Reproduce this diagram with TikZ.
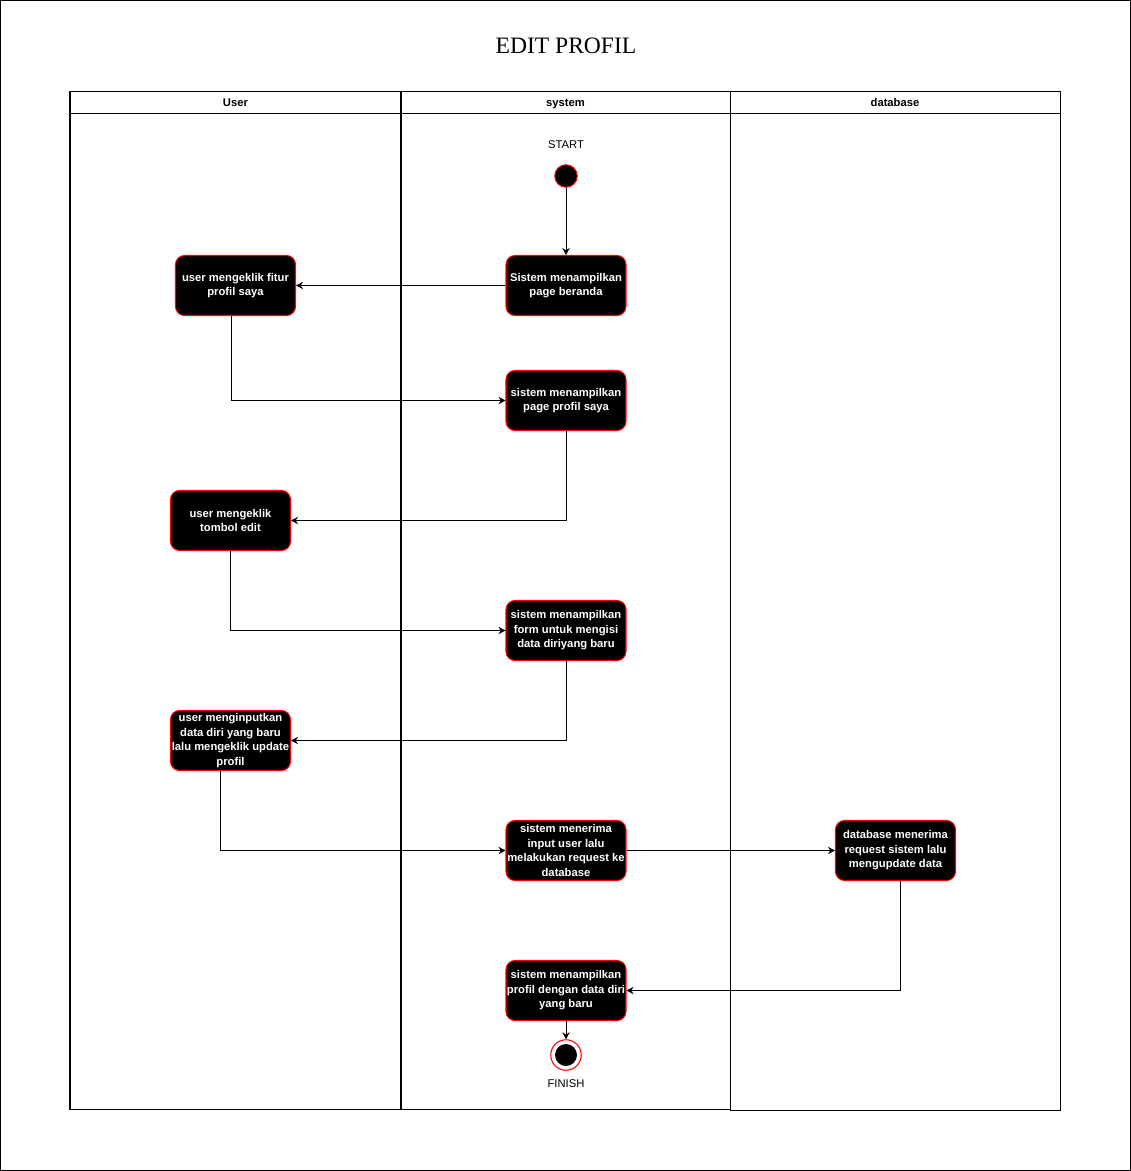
\documentclass[tikz,border=0pt]{standalone}
\usepackage{fontspec}
\setmainfont{Liberation Serif}
\setsansfont{Liberation Sans}
\usetikzlibrary{arrows.meta}

\begin{document}
\begin{tikzpicture}[x=0.02cm,y=-0.02cm,
  act/.style={draw=red,fill=black,text=white,rounded corners=0.18cm,
    minimum width=2.4cm,minimum height=1.2cm,inner sep=0.3pt,align=center,
    line width=0.6pt,font=\sffamily\bfseries\fontsize{6.4}{8.2}\selectfont},
  lbl/.style={font=\sffamily\fontsize{6.4}{8}\selectfont},
  hdr/.style={anchor=base,font=\sffamily\bfseries\fontsize{6.4}{8}\selectfont},
  lane/.style={draw,line width=0.57pt},
  flow/.style={-{Stealth[length=4pt,width=4.2pt,inset=1.4pt]},line width=0.57pt}]
     \useasboundingbox (0,0) rectangle (1131,1171);
     \draw[line width=0.57pt] (0.5,0.5) rectangle (1130.5,1170.5);
     \node[anchor=base] at (566,53) (title) {\fontsize{13.4}{15}\selectfont EDIT PROFIL};
     % lanes
     \path[lane] (70,91) rectangle (401,1109) (70,113) -- (401,113);
     \path[lane] (401,91) rectangle (730,1109) (401,113) -- (730,113);
     \path[lane] (730,91) rectangle (1060,1110) (730,113) -- (1060,113);
     \draw[line width=1.1pt] (401,91) -- (401,1109);
     \node[hdr] at (235.5,106) (huser) {User};
     \node[hdr] at (565.5,106) (hsys) {system};
     \node[hdr] at (895,106) (hdb) {database};
     % nodes
     \node[lbl] at (566,145) (lstart) {START};
     \node[circle,draw=red,fill=black,minimum size=0.45cm,inner sep=0pt,line width=0.6pt] at (566,176) (start) {};
     \node[act] at (566,285.5) (beranda) {Sistem menampilkan\\page beranda};
     \node[act] at (235.5,285.5) (fitur) {user mengeklik fitur\\profil saya};
     \node[act] at (566,400.5) (profil) {sistem menampilkan\\page profil saya};
     \node[act] at (230.5,520.5) (edit) {user mengeklik\\tombol edit};
     \node[act] at (566,630.5) (form) {sistem menampilkan\\form untuk mengisi\\data diriyang baru};
     \node[act] at (230.5,740.5) (input) {user menginputkan\\data diri yang baru\\lalu mengeklik update\\profil};
     \node[act] at (566,850.5) (terima) {sistem menerima\\input user lalu\\melakukan request ke\\database};
     \node[act] at (895.5,850.5) (dbupd) {database menerima\\request sistem lalu\\mengupdate data};
     \node[act] at (566,990.5) (hasil) {sistem menampilkan\\profil dengan data diri\\yang baru};
     \node[circle,draw=red,fill=white,minimum size=0.61cm,inner sep=0pt,line width=0.6pt] at (566,1055) (finish) {};
     \node[circle,fill=black,minimum size=0.44cm,inner sep=0pt] at (finish) (finishin) {};
     \node[lbl] at (566,1084) (lfinish) {FINISH};
     % connectors
     \draw[flow] (start) -- (beranda);
     \draw[flow] (beranda) -- (fitur);
     \draw[flow] ([xshift=-0.09cm]fitur.south) |- (profil.west);
     \draw[flow] (profil.south) |- (edit.east);
     \draw[flow] (edit.south) |- (form.west);
     \draw[flow] (form.south) |- (input.east);
     \draw[flow] ([xshift=-0.2cm]input.south) |- (terima.west);
     \draw[flow] (terima) -- (dbupd);
     \draw[flow] ([xshift=0.1cm]dbupd.south) |- (hasil.east);
     \draw[flow] (hasil) -- (finish);
\end{tikzpicture}
\end{document}
